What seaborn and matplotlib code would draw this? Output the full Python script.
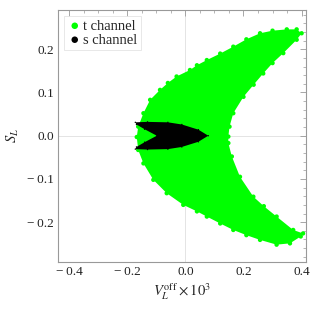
import numpy as np
import pandas as pd
import matplotlib
matplotlib.use("Agg")
import matplotlib.pyplot as plt
from matplotlib.ticker import MultipleLocator, FuncFormatter
import seaborn as sns

# boundary of the t channel region (outer edge, then inner edge back)
t_x = [0.400, 0.383, 0.349, 0.300, 0.257, 0.210, 0.165, 0.120, 0.074, 0.040, 0.016, -0.030,
       -0.060, -0.087, -0.121, -0.144, -0.162, -0.167, -0.162, -0.144, -0.110, -0.064,
       -0.007, 0.040, 0.074, 0.120, 0.165, 0.210, 0.257, 0.314, 0.360, 0.397, 0.405,
       0.371, 0.314, 0.270, 0.234, 0.188, 0.160, 0.148, 0.148, 0.152, 0.165, 0.200,
       0.235, 0.268, 0.300, 0.337, 0.383]
t_y = [0.237, 0.246, 0.246, 0.243, 0.237, 0.223, 0.206, 0.190, 0.175, 0.163, 0.152, 0.137,
       0.122, 0.106, 0.083, 0.052, 0.021, -0.003, -0.033, -0.064, -0.102, -0.133,
       -0.160, -0.175, -0.187, -0.203, -0.218, -0.230, -0.241, -0.252, -0.249, -0.233, -0.226,
       -0.218, -0.187, -0.163, -0.141, -0.095, -0.048, -0.017, -0.002, 0.021, 0.052, 0.090,
       0.118, 0.144, 0.168, 0.191, 0.222]

# boundary of the s channel region (outer edge, then the notch)
s_x = [-0.172, -0.13, -0.06, -0.012, 0.045, 0.079, 0.045, -0.012, -0.06, -0.13, -0.172,
       -0.168, -0.14, -0.098, -0.14, -0.168]
s_y = [0.031, 0.032, 0.031, 0.026, 0.014, 0.0, -0.014, -0.026, -0.031, -0.032, -0.031,
       -0.026, -0.015, 0.0, 0.015, 0.026]

green = "#00ff00"

t_df = pd.DataFrame({"x": t_x, "y": t_y})
s_df = pd.DataFrame({"x": s_x, "y": s_y})

sns.set_style("white")
plt.rcParams["font.family"] = ["Liberation Serif", "DejaVu Serif"]
plt.rcParams["mathtext.fontset"] = "stix"

fig = plt.figure(figsize=(3.1, 3.1), dpi=100)
ax = fig.add_axes([0.187, 0.155, 0.80, 0.813])

ax.axhline(0, color="#e4e4e4", lw=0.7, zorder=0)
ax.axvline(0, color="#e4e4e4", lw=0.7, zorder=0)

ax.fill(t_x, t_y, color=green, lw=0, zorder=1)
sns.scatterplot(data=t_df, x="x", y="y", color=green, s=10, edgecolor="none",
                ax=ax, zorder=2, label="t channel")
ax.fill(s_x, s_y, color="black", lw=0, zorder=3)
sns.scatterplot(data=s_df, x="x", y="y", color="black", s=1, edgecolor="none",
                ax=ax, zorder=3, label="s channel")

ax.set_xlim(-0.438, 0.415)
ax.set_ylim(-0.292, 0.291)
ax.xaxis.set_major_locator(MultipleLocator(0.2))
ax.xaxis.set_minor_locator(MultipleLocator(0.05))
ax.yaxis.set_major_locator(MultipleLocator(0.1))
ax.yaxis.set_minor_locator(MultipleLocator(0.02))
fmt = FuncFormatter(lambda v, p: f"{v:.1f}".replace("-", "\u2212\u2009"))
ax.xaxis.set_major_formatter(fmt)
ax.yaxis.set_major_formatter(fmt)

ax.tick_params(which="both", direction="in", top=True, right=True, color="#999999",
               labelsize=9.5, labelcolor="#222222")
ax.tick_params(which="major", length=4, width=0.6, pad=3)
ax.tick_params(which="minor", length=2, width=0.5)
for sp in ax.spines.values():
    sp.set_color("#999999")
    sp.set_linewidth(0.8)

ax.set_xlabel(r"$V_L^{\rm off}\times10^3$", fontsize=10.5, labelpad=2)
ax.set_ylabel(r"$S_L$", fontsize=10.5, labelpad=4)

leg = ax.legend(loc="upper left", fontsize=10.5, frameon=True, fancybox=False,
                edgecolor="#dddddd", handletextpad=0.1, borderpad=0.25, labelspacing=0.05,
                handlelength=1.0, borderaxespad=0.4)
leg.get_frame().set_linewidth(0.6)
for h in leg.legend_handles:
    h.set_sizes([22])

fig.savefig("out.png", dpi=100)
